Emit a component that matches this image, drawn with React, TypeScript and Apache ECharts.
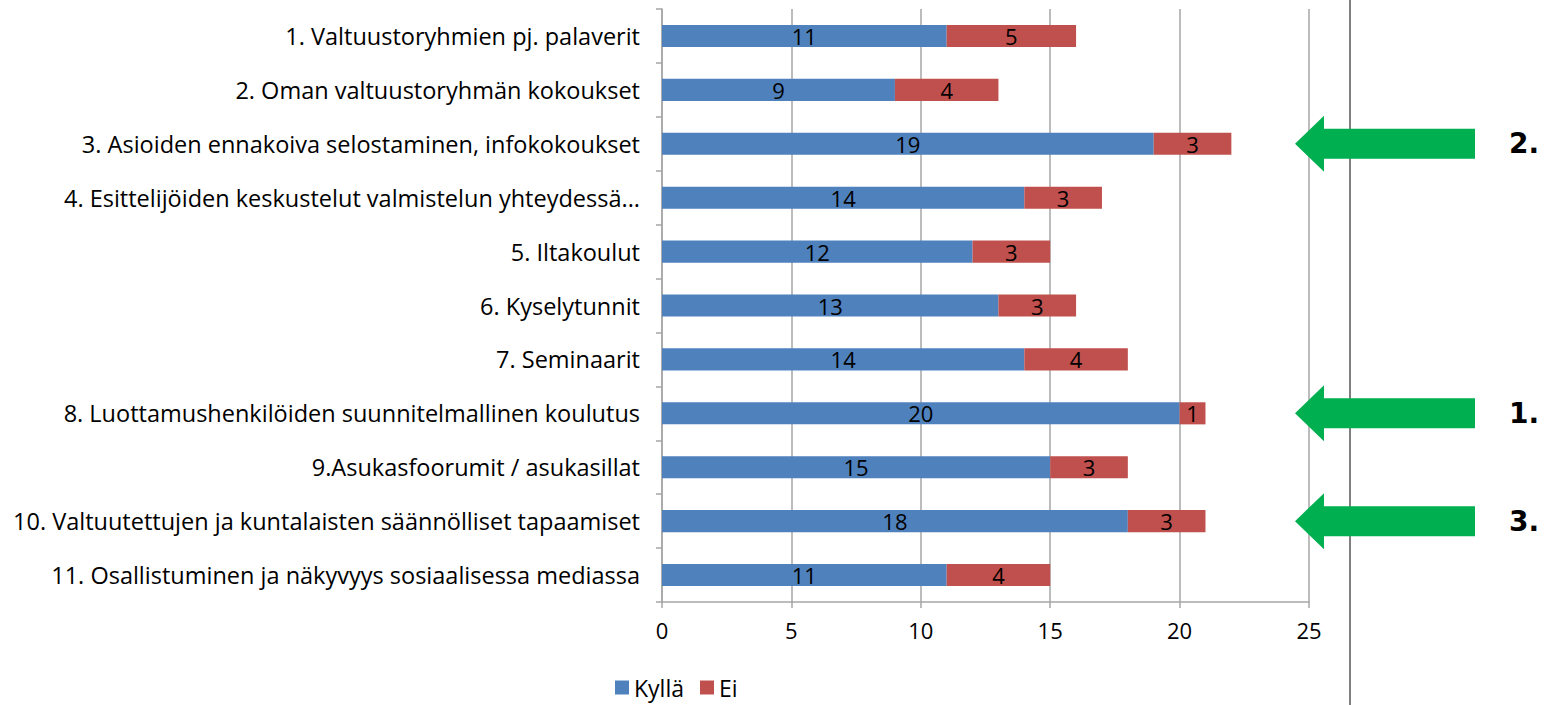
import React, { useEffect, useRef } from "react";
import * as echarts from "echarts";

const categories = [
  "1. Valtuustoryhmien pj. palaverit",
  "2. Oman valtuustoryhmän kokoukset",
  "3. Asioiden ennakoiva selostaminen, infokokoukset",
  "4. Esittelijöiden keskustelut valmistelun yhteydessä...",
  "5. Iltakoulut",
  "6. Kyselytunnit",
  "7. Seminaarit",
  "8. Luottamushenkilöiden suunnitelmallinen koulutus",
  "9.Asukasfoorumit / asukasillat",
  "10. Valtuutettujen ja kuntalaisten säännölliset tapaamiset",
  "11. Osallistuminen ja näkyvyys sosiaalisessa mediassa",
];
const kylla = [11, 9, 19, 14, 12, 13, 14, 20, 15, 18, 11];
const ei = [5, 4, 3, 3, 3, 3, 4, 1, 3, 3, 4];
const seriesNames = ["Kyllä", "Ei"];
const xTicks = { min: 0, max: 25, interval: 5 };
const rankings = [
  { category: 2, label: "2." },
  { category: 7, label: "1." },
  { category: 9, label: "3." },
];

const FONT = "'Open Sans', sans-serif";

export default function App() {
  const ref = useRef<HTMLDivElement>(null);
  useEffect(() => {
    if (!ref.current) return;
    const chart = echarts.init(ref.current, null, { renderer: "svg" });
    const labelStyle = {
      show: true,
      position: "inside",
      color: "#000",
      fontSize: 22,
      fontFamily: FONT,
    };
    chart.setOption({
      animation: false,
      grid: { left: 662, right: 235, top: 9, bottom: 103, containLabel: false },
      legend: {
        data: seriesNames,
        bottom: 1,
        left: 610,
        itemWidth: 14,
        itemHeight: 14,
        itemGap: 16,
        icon: "rect",
        textStyle: { fontSize: 23, fontFamily: FONT, color: "#000" },
      },
      xAxis: {
        type: "value",
        min: xTicks.min,
        max: xTicks.max,
        interval: xTicks.interval,
        axisLine: { show: true, lineStyle: { color: "#a6a6a6", width: 1.5 } },
        axisTick: { show: true, length: 6, lineStyle: { color: "#a6a6a6", width: 1.5 } },
        splitLine: { show: true, lineStyle: { color: "#a6a6a6", width: 1.5 } },
        axisLabel: { fontSize: 22, fontFamily: FONT, color: "#000", margin: 17 },
      },
      yAxis: {
        type: "category",
        inverse: true,
        data: categories,
        axisLine: { show: true, lineStyle: { color: "#a6a6a6", width: 1.5 } },
        axisTick: { show: true, length: 6, inside: false, lineStyle: { color: "#a6a6a6", width: 1.5 } },
        axisLabel: { fontSize: 23.5, fontFamily: FONT, color: "#000", margin: 22 },
      },
      series: [
        {
          name: seriesNames[0],
          type: "bar",
          stack: "total",
          data: kylla,
          barWidth: "41%",
          itemStyle: { color: "#4F81BD" },
          label: labelStyle,
        },
        {
          name: seriesNames[1],
          type: "bar",
          stack: "total",
          data: ei,
          itemStyle: { color: "#C0504D" },
          label: labelStyle,
        },
      ],
    });

    const graphics: any[] = [
      {
        type: "line",
        shape: { x1: 1350, y1: 0, x2: 1350, y2: 705 },
        style: { stroke: "#808080", lineWidth: 2 },
        z: 10,
      },
    ];
    rankings.forEach((r) => {
      const y = chart.convertToPixel({ yAxisIndex: 0 }, categories[r.category]) as number;
      graphics.push({
        type: "polygon",
        shape: {
          points: [
            [1295, y],
            [1324, y - 28],
            [1324, y - 15],
            [1475, y - 15],
            [1475, y + 15],
            [1324, y + 15],
            [1324, y + 28],
          ],
        },
        style: { fill: "#00B050" },
        z: 20,
      });
      graphics.push({
        type: "text",
        x: 1509,
        y: y,
        style: {
          text: r.label,
          fill: "#000",
          font: "bold 28px 'DejaVu Sans', Verdana, sans-serif",
          verticalAlign: "middle",
          align: "left",
        },
        z: 20,
      });
    });
    chart.setOption({ graphic: graphics });

    return () => chart.dispose();
  }, []);
  return (
    <div
      ref={ref}
      style={{ position: "fixed", left: 0, top: 0, width: 1544, height: 705, background: "#fff" }}
    />
  );
}
